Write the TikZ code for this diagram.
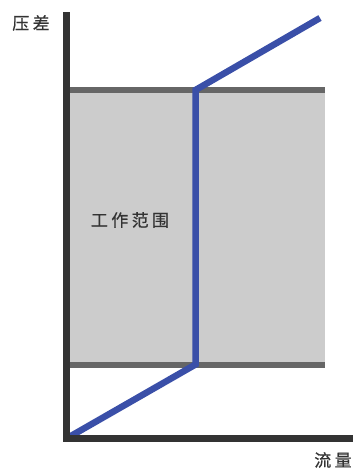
\documentclass[tikz,border=0pt]{standalone}
\usepackage{fontspec}
\newfontfamily\cjk[LetterSpace=20, FakeBold=0.6]{Noto Sans CJK SC}
\definecolor{axisgray}{HTML}{333333}
\definecolor{bandgray}{HTML}{666666}
\definecolor{fillgray}{HTML}{CCCCCC}
\definecolor{curveblue}{HTML}{3A4FA8}
\tikzset{
    axis/.style={axisgray, line width=7pt},
    band/.style={bandgray, line width=6pt},
    curve/.style={curveblue, line width=6.5pt},
    label/.style={font=\cjk\fontsize{17}{17}\selectfont, text=black!80, inner sep=0pt}
}
\begin{document}
\begin{tikzpicture}[x=1pt, y=-1pt]
        \useasboundingbox (0, 0) rectangle (355, 472);
        \coordinate (o) at (66.5, 438.5);
        \coordinate (ytop) at (66.5, 12);
        \coordinate (xend) at (353, 438.5);
        \coordinate (lowl) at (70, 364.5);
        \coordinate (lowr) at (325, 364.5);
        \coordinate (upl) at (70, 90);
        \coordinate (upr) at (325, 90);
        \coordinate (lowc) at (195.5, 364.5);
        \coordinate (upc) at (195.5, 90);
        \coordinate (tip) at (320, 18);
        \fill[fillgray] (upl) rectangle (lowr);
        \draw[band] (upl) -- (upr);
        \draw[band] (lowl) -- (lowr);
        \draw[curve] (o) -- (lowc) -- (upc) -- (tip);
        \draw[axis] (ytop) -- (o) -- (xend);
        \node[label] (dp) at (31, 23) {压差};
        \node[label] (flow) at (333, 460) {流量};
        \node[label] (range) at (130, 220) {工作范围};
    \end{tikzpicture}
\end{document}
